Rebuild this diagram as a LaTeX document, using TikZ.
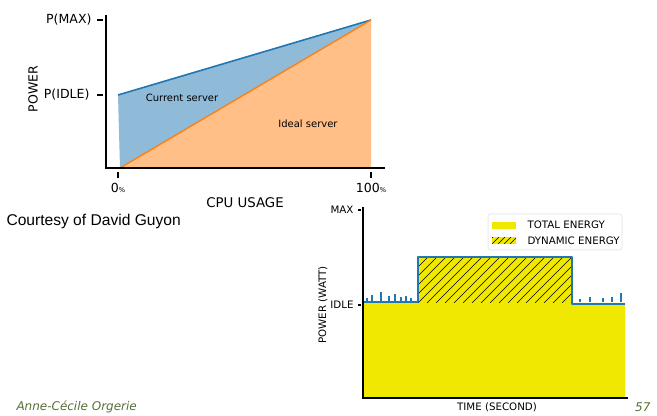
\documentclass[tikz,border=0pt]{standalone}
\usepackage{fontspec}
\setmainfont{Liberation Sans}
\newfontfamily\handfont{DejaVu Sans}
\newfontfamily\plotfont{DejaVu Sans}
\newfontfamily\footfont{DejaVu Sans}

\definecolor{lineblue}{RGB}{31,119,180}
\definecolor{lineorange}{RGB}{255,127,14}
\definecolor{fillblue}{RGB}{143,187,217}
\definecolor{fillorange}{RGB}{255,191,134}
\definecolor{energyyellow}{RGB}{240,232,0}
\definecolor{footgreen}{RGB}{84,112,54}

\tikzset{every picture/.style={line width=0.75pt}}
\tikzset{
  axisline/.style={draw=black,line width=1.5pt},
  tickmark/.style={draw=black,line width=2pt},
  handlabel/.style={inner sep=0.75pt,font=\handfont\fontsize{9.4}{11}\selectfont},
  smallhand/.style={inner sep=0.75pt,font=\handfont\fontsize{7.7}{9}\selectfont},
  plotlabel/.style={inner sep=0.75pt,font=\plotfont\fontsize{7.5}{9}\selectfont},
  hatchline/.style={draw=black,line width=0.4pt}
}

\begin{document}
\begin{tikzpicture}[x=0.75pt,y=0.75pt,yscale=-1,xscale=1]
\path (0,0) rectangle (657,416); %set diagram to 657 x 416

%Shape: Polygon [current server]
\fill [fill=fillblue] (118,95) -- (371,20) -- (120,168) -- cycle;
%Shape: Polygon [ideal server]
\fill [fill=fillorange] (120,168) -- (371,20) -- (371,168) -- cycle;
%Straight Lines
\draw [color=lineblue,line width=1.2pt] (118,95) -- (371,20);
%Straight Lines
\draw [color=lineorange,line width=1pt] (120,168) -- (371,20);
%Straight Lines [axes]
\draw [axisline] (106,15) -- (106,168) -- (385,168);

% Text Node
\draw (93,20) node [anchor=east][handlabel] (pmax) {P(MAX)};
% Text Node
\draw (91,95) node [anchor=east][handlabel] (pidle) {P(IDLE)};
\draw [tickmark] (pmax.east) ++(4,0) -- ++(6,0);
\draw [tickmark] (pidle.east) ++(6,0) -- ++(6,0);
% Text Node
\draw (33,89) node [rotate=90][handlabel] (power) {POWER};
% Text Node
\draw (118,188) node [handlabel] (zero) {0{\fontsize{5}{6}\selectfont\%}};
% Text Node
\draw (371,188) node [handlabel] (hundred) {100{\fontsize{5}{6}\selectfont\%}};
\draw [tickmark] (zero.north) ++(0,-4) -- ++(0,-6);
\draw [tickmark] (hundred.north) ++(0,-4) -- ++(0,-6);
% Text Node
\draw (245,203) node [handlabel,font=\handfont\fontsize{10}{12}\selectfont] (cpu) {CPU USAGE};
% Text Node
\draw (182,98) node [plotlabel] (current) {Current server};
% Text Node
\draw (308,124) node [plotlabel] (ideal) {Ideal server};

% Text Node
\draw (5,221) node [anchor=west][inner sep=0.75pt,font=\fontsize{11.7}{13}\selectfont] (courtesy) {Courtesy of David Guyon};

%Shape: Polygon [total energy]
\fill [fill=energyyellow] (363,303) -- (418,303) -- (418,257) -- (572,257) -- (572,303) -- (625,303) -- (625,398) -- (363,398) -- cycle;
%Hatching [dynamic energy]
\begin{scope}
\clip (418,257) rectangle (572,303);
\foreach \x in {364,373,...,580} {
  \draw [hatchline] (\x,303) -- (\x+46,257);
}
\end{scope}
%Straight Lines [measured power]
\draw [color=lineblue,line width=1.5pt,line join=round] (363,302) -- (418,302) -- (418,257) -- (572,257) -- (572,304) -- (625,304);
\foreach \x/\y in {367/298,372/295,381/292,389/296,395/294,401/297,406/296,411/298,580/299,590/297,603/298,612/297,621/293} {
  \draw [color=lineblue,line width=1pt] (\x,302) -- (\x,\y);
}
%Straight Lines [axes]
\draw [draw=black,line width=1pt] (363,207) -- (363,398) -- (628,398);
\draw [tickmark,line width=1.5pt] (358,210) -- (361,210);
\draw [tickmark,line width=1.5pt] (358,305) -- (361,305);

% Text Node
\draw (355,210) node [anchor=east][smallhand] (maxlbl) {MAX};
% Text Node
\draw (355,305) node [anchor=east][smallhand] (idlelbl) {IDLE};
% Text Node
\draw (323,305) node [rotate=90][smallhand] (powerwatt) {POWER (WATT)};
% Text Node
\draw (497,407) node [smallhand] (time) {TIME (SECOND)};

%Shape: Rectangle [legend]
\draw [draw=black!8,fill=white,rounded corners=2] (488,214) rectangle (622,250);
\fill [fill=energyyellow] (492,222) rectangle (516,229);
\fill [fill=energyyellow] (492,237) rectangle (516,244);
\begin{scope}
\clip (492,237) rectangle (516,244);
\foreach \x in {486,492,...,522} {
  \draw [hatchline] (\x,244) -- (\x+7,237);
}
\end{scope}
% Text Node
\draw (526,225) node [anchor=west][smallhand] (total) {TOTAL ENERGY};
% Text Node
\draw (526,241) node [anchor=west][smallhand] (dynamic) {DYNAMIC ENERGY};

% Text Node
\draw (15,407) node [anchor=west][inner sep=0.75pt,font=\footfont\itshape\fontsize{9}{10}\selectfont,color=footgreen] (author) {Anne-Cécile Orgerie};
% Text Node
\draw (652,407) node [anchor=east][inner sep=0.75pt,font=\footfont\itshape\fontsize{9}{10}\selectfont,color=footgreen] (page) {57};
\end{tikzpicture}
\end{document}
